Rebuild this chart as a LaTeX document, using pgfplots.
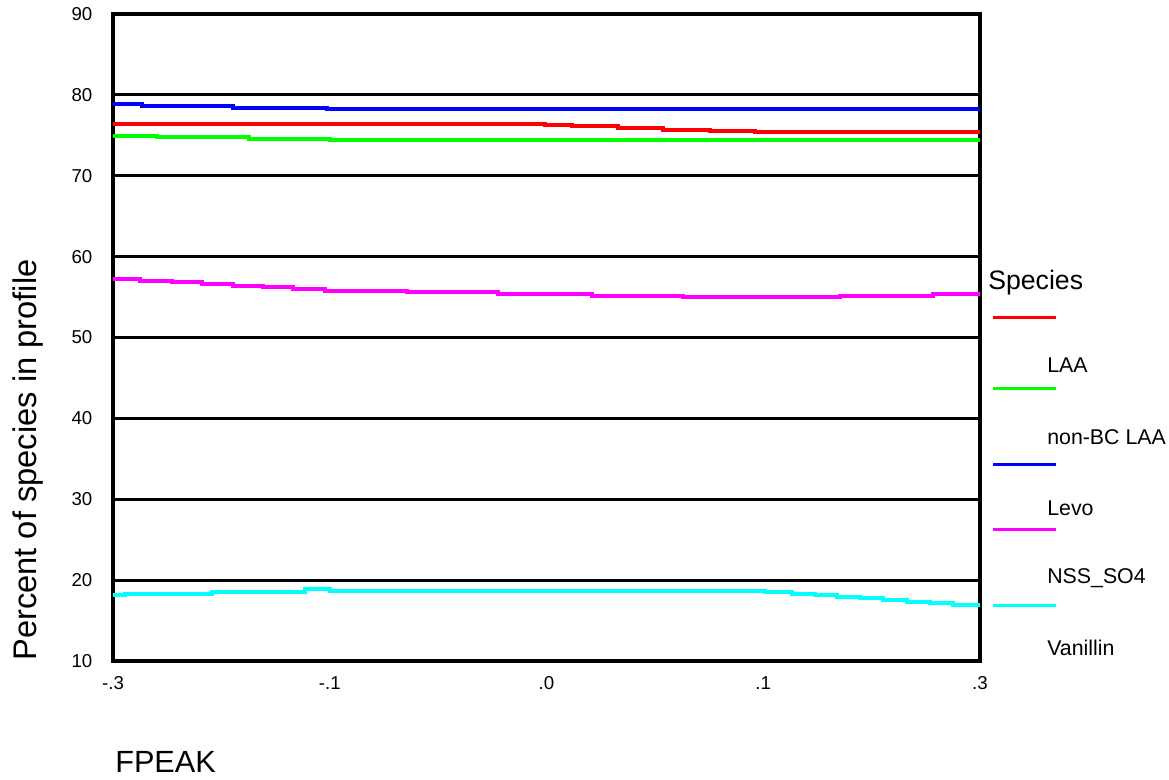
\documentclass[border=0pt]{standalone}
\usepackage{fontspec}
\setmainfont{Liberation Sans}
\usepackage{pgfplots}
\pgfplotsset{compat=1.18}
\definecolor{pRed}{RGB}{255,0,0}
\definecolor{pGreen}{RGB}{0,255,0}
\definecolor{pBlue}{RGB}{0,0,255}
\definecolor{pMagenta}{RGB}{255,0,255}
\definecolor{pCyan}{RGB}{0,255,255}
\begin{document}
\begin{tikzpicture}
\begin{axis}[
  at={(84.75pt,89.25pt)}, anchor=south west,
  scale only axis, width=650.25pt, height=485.25pt,
  xmin=-0.3, xmax=0.3, ymin=10, ymax=90,
  xtick={-0.3,-0.15,0,0.15,0.3}, xticklabels={-.3,-.1,.0,.1,.3},
  ytick={10,20,...,90},
  /pgf/number format/assume math mode=true,
  major tick length=0pt,
  ymajorgrids, grid style={black, line width=2.25pt},
  axis line style={line width=2.5pt},
  tick label style={font=\fontsize{14}{16}\selectfont},
  xticklabel style={yshift=-8pt},
  yticklabel style={xshift=-12pt},
  xlabel={FPEAK},
  xlabel style={at={(axis description cs:0.0023,-0.172)}, anchor=base west, inner sep=0pt, font=\fontsize{23}{28}\selectfont},
  ylabel={Percent of species in profile},
  ylabel style={at={(axis description cs:-0.0877,0)}, anchor=base west, inner sep=0pt, rotate=0, font=\fontsize{24.5}{28}\selectfont},
  every axis plot/.append style={line width=3pt, const plot mark left},
]
\addplot[pRed] coordinates {(-0.3,76.42) (-0.001,76.26) (0.0174,76.1) (0.0497,75.85) (0.0808,75.7) (0.1131,75.5) (0.1443,75.43) (0.3,75.43)};
\addplot[pGreen] coordinates {(-0.3,74.93) (-0.2696,74.73) (-0.2059,74.5) (-0.1498,74.44) (0.3,74.44)};
\addplot[pBlue] coordinates {(-0.3,78.88) (-0.2801,78.6) (-0.2167,78.38) (-0.1521,78.3) (0.3,78.3)};
\addplot[pMagenta] coordinates {(-0.3,57.22) (-0.2813,57.01) (-0.2594,56.81) (-0.2386,56.6) (-0.2167,56.39) (-0.196,56.19) (-0.1752,55.98) (-0.1533,55.77) (-0.0967,55.57) (-0.0334,55.37) (0.0313,55.12) (0.0947,54.96) (0.2031,55.12) (0.2677,55.37) (0.3,55.37)};
\addplot[pCyan] coordinates {(-0.3,18.16) (-0.2917,18.32) (-0.2317,18.53) (-0.1671,18.86) (-0.1498,18.69) (0.1512,18.57) (0.1697,18.32) (0.1858,18.2) (0.2008,17.95) (0.217,17.75) (0.2331,17.54) (0.2493,17.33) (0.2654,17.13) (0.2815,16.92) (0.3,16.92)};
\end{axis}
% legend (as drawn in the reference)
\node[anchor=west, inner sep=0pt, font=\fontsize{20}{24}\selectfont] at (741pt,372.75pt) {Species};
\begin{scope}[line width=2.25pt]
\draw[pRed] (744.75pt,346.5pt) -- (792pt,346.5pt);
\draw[pGreen] (744.75pt,293.25pt) -- (792pt,293.25pt);
\draw[pBlue] (744.75pt,236.8pt) -- (792pt,236.8pt);
\draw[pMagenta] (744.75pt,187.5pt) -- (792pt,187.5pt);
\draw[pCyan] (744.75pt,130.5pt) -- (792pt,130.5pt);
\end{scope}
\begin{scope}[every node/.style={anchor=west, inner sep=0pt, font=\fontsize{16}{19}\selectfont}]
\node at (785.25pt,311.25pt) {LAA};
\node at (785.25pt,257.5pt) {non-BC LAA};
\node at (785.25pt,204pt) {Levo};
\node at (785.25pt,151.5pt) {NSS\_SO4};
\node at (785.25pt,99pt) {Vanillin};
\end{scope}
\pgfresetboundingbox
\useasboundingbox (0,0) rectangle (876.75pt,585pt);
\end{tikzpicture}
\end{document}
